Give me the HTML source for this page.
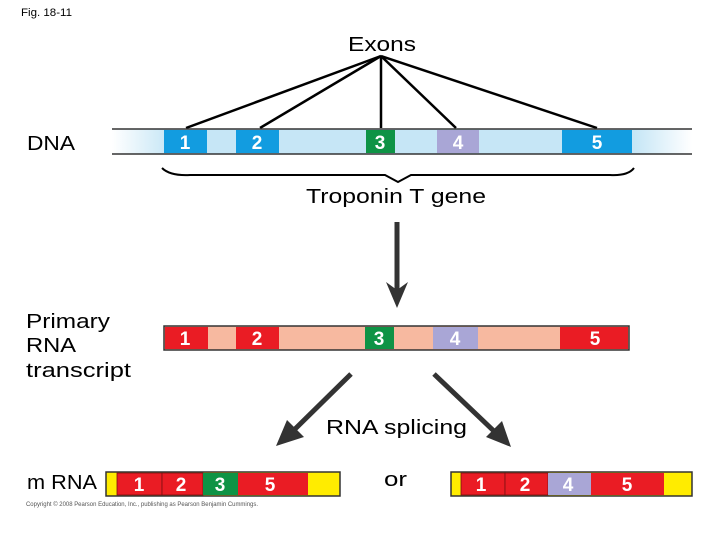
<!DOCTYPE html>
<html><head><style>
body{margin:0;background:#fff;}
svg text{font-family:"Liberation Sans",Arial,sans-serif;}
</style></head><body>
<svg width="720" height="540" viewBox="0 0 720 540" xmlns="http://www.w3.org/2000/svg">
<defs>
<linearGradient id="dg" x1="0" x2="1" y1="0" y2="0">
<stop offset="0" stop-color="#fff"/><stop offset="0.1" stop-color="#c6e6f6"/><stop offset="0.9" stop-color="#c6e6f6"/><stop offset="1" stop-color="#fff"/>
</linearGradient>
</defs>
<text x="21" y="16" font-size="11" textLength="51" lengthAdjust="spacingAndGlyphs">Fig. 18-11</text>
<text x="348" y="51" font-size="20" textLength="68" lengthAdjust="spacingAndGlyphs">Exons</text>
<g stroke="#000" stroke-width="2.5">
<line x1="381" y1="56" x2="186" y2="128"/>
<line x1="381" y1="56" x2="260" y2="128"/>
<line x1="381" y1="56" x2="381" y2="128"/>
<line x1="381" y1="56" x2="456" y2="128"/>
<line x1="381" y1="56" x2="597" y2="128"/>
</g>
<text x="27" y="150" font-size="20" textLength="48" lengthAdjust="spacingAndGlyphs">DNA</text>
<rect x="112" y="129" width="580" height="25" fill="url(#dg)"/>
<line x1="112" y1="129" x2="692" y2="129" stroke="#333" stroke-width="1.5"/>
<line x1="112" y1="154" x2="692" y2="154" stroke="#333" stroke-width="1.5"/>
<g fill="#fff" font-size="19" font-weight="bold" text-anchor="middle">
<rect x="164" y="130" width="43" height="23" fill="#129ce0"/><text x="185" y="149">1</text>
<rect x="236" y="130" width="43" height="23" fill="#129ce0"/><text x="257" y="149">2</text>
<rect x="366" y="130" width="29" height="23" fill="#0e9345"/><text x="380" y="149">3</text>
<rect x="437" y="130" width="42" height="23" fill="#a9a6d6"/><text x="458" y="149">4</text>
<rect x="562" y="130" width="70" height="23" fill="#129ce0"/><text x="597" y="149">5</text>
</g>
<path d="M162 168 Q170 176 190 175 L385 175 L398 182 L411 175 L610 175 Q628 176 634 168" fill="none" stroke="#000" stroke-width="2"/>
<text x="306" y="203" font-size="20" textLength="180" lengthAdjust="spacingAndGlyphs">Troponin T gene</text>
<line x1="397" y1="222" x2="397" y2="290" stroke="#333" stroke-width="5"/>
<path d="M386 282 L397 308 L408 282 L397 290 Z" fill="#333"/>
<text x="26" y="328" font-size="20" textLength="84" lengthAdjust="spacingAndGlyphs">Primary</text>
<text x="26" y="352" font-size="20" textLength="50" lengthAdjust="spacingAndGlyphs">RNA</text>
<text x="26" y="377" font-size="20" textLength="105" lengthAdjust="spacingAndGlyphs">transcript</text>
<rect x="164" y="326" width="465" height="24" fill="#f7b9a0" stroke="#333" stroke-width="1.5"/>
<g fill="#fff" font-size="19" font-weight="bold" text-anchor="middle">
<rect x="165" y="327" width="43" height="22" fill="#ea1c24"/><text x="185" y="345">1</text>
<rect x="236" y="327" width="43" height="22" fill="#ea1c24"/><text x="257" y="345">2</text>
<rect x="365" y="327" width="29" height="22" fill="#0e9345"/><text x="379" y="345">3</text>
<rect x="433" y="327" width="45" height="22" fill="#a9a6d6"/><text x="455" y="345">4</text>
<rect x="560" y="327" width="68" height="22" fill="#ea1c24"/><text x="595" y="345">5</text>
</g>
<line x1="351" y1="374" x2="292" y2="432" stroke="#333" stroke-width="5"/>
<path d="M276 446 L287 420 L304 437 Z" fill="#333"/>
<line x1="434" y1="374" x2="497" y2="434" stroke="#333" stroke-width="5"/>
<path d="M511 447 L486 437 L502 421 Z" fill="#333"/>
<text x="326" y="434" font-size="20" textLength="141" lengthAdjust="spacingAndGlyphs">RNA splicing</text>
<text x="27" y="489" font-size="20" textLength="70" lengthAdjust="spacingAndGlyphs">m RNA</text>
<text x="384" y="486" font-size="20" textLength="23" lengthAdjust="spacingAndGlyphs">or</text>
<g font-size="19" font-weight="bold" fill="#fff" text-anchor="middle">
<rect x="106" y="472" width="234" height="24" fill="#ffec00" stroke="#333" stroke-width="1.5"/>
<rect x="117" y="473" width="45" height="22" fill="#ea1c24" stroke="#7a1010" stroke-width="0.8"/><text x="139" y="491">1</text>
<rect x="162" y="473" width="41" height="22" fill="#ea1c24" stroke="#7a1010" stroke-width="0.8"/><text x="181" y="491">2</text>
<rect x="203" y="473" width="35" height="22" fill="#0e9345"/><text x="220" y="491">3</text>
<rect x="238" y="473" width="70" height="22" fill="#ea1c24"/><text x="270" y="491">5</text>
<rect x="451" y="472" width="241" height="24" fill="#ffec00" stroke="#333" stroke-width="1.5"/>
<rect x="461" y="473" width="44" height="22" fill="#ea1c24" stroke="#7a1010" stroke-width="0.8"/><text x="481" y="491">1</text>
<rect x="505" y="473" width="43" height="22" fill="#ea1c24" stroke="#7a1010" stroke-width="0.8"/><text x="525" y="491">2</text>
<rect x="548" y="473" width="43" height="22" fill="#a9a6d6"/><text x="568" y="491">4</text>
<rect x="591" y="473" width="73" height="22" fill="#ea1c24"/><text x="627" y="491">5</text>
</g>
<text x="26" y="506" font-size="6" fill="#555" textLength="232" lengthAdjust="spacingAndGlyphs">Copyright © 2008 Pearson Education, Inc., publishing as Pearson Benjamin Cummings.</text>
</svg>
</body></html>
